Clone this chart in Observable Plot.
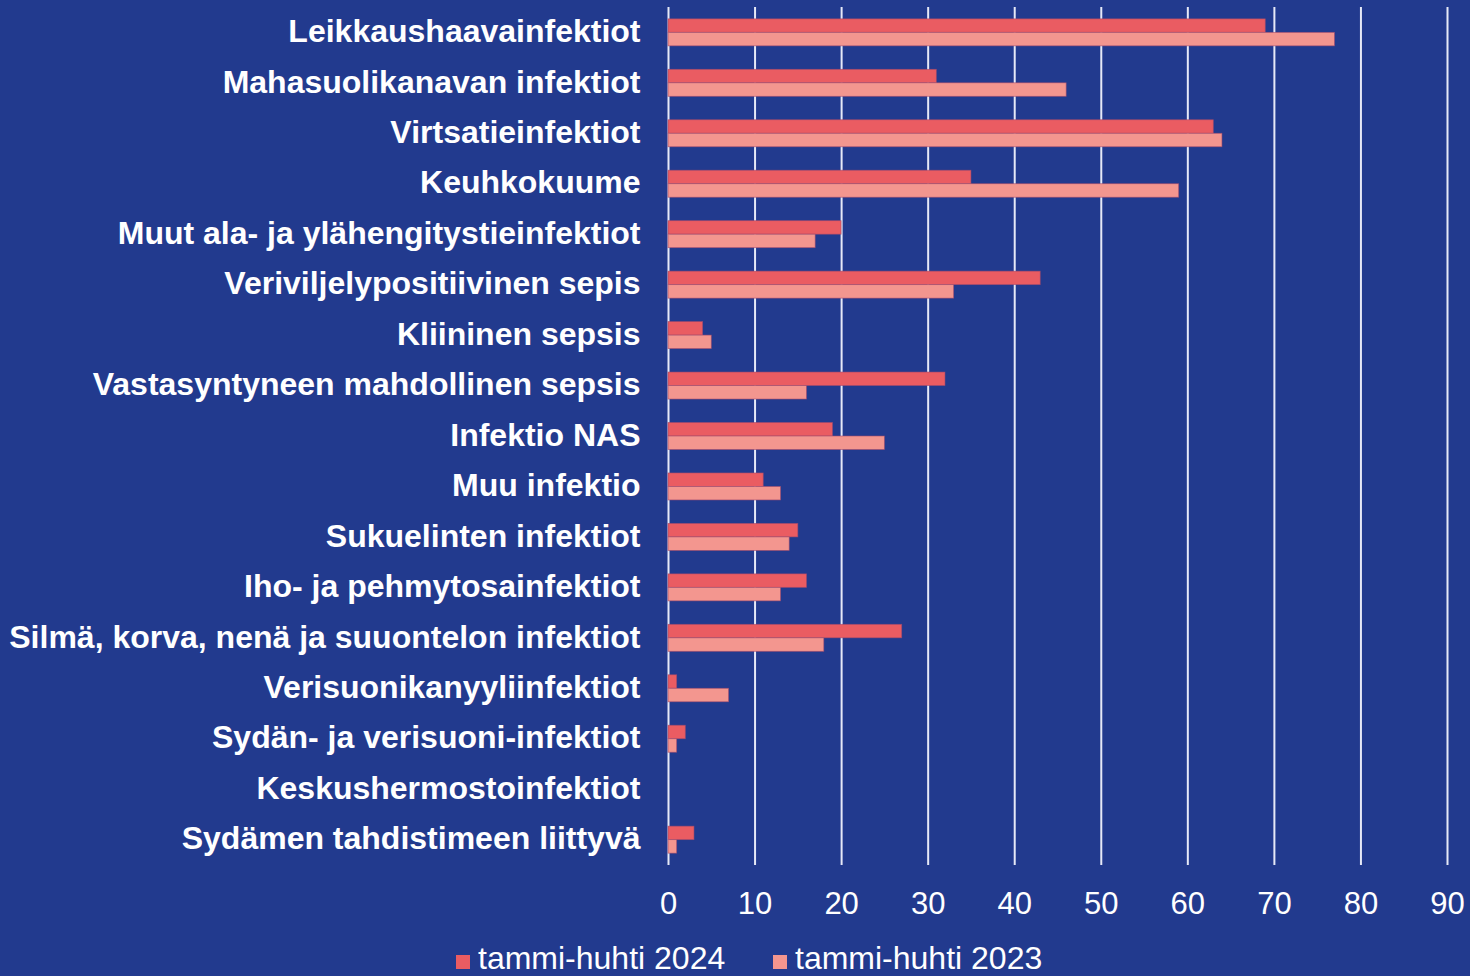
<!DOCTYPE html>
<html>
<head>
<meta charset="utf-8">
<script src="https://cdn.jsdelivr.net/npm/d3@7"></script>
<script src="https://cdn.jsdelivr.net/npm/@observablehq/plot@0.6"></script>
<style>
  html, body { margin: 0; padding: 0; background: #223A8E; overflow: hidden; }
  #chart svg { display: block; }
  #legend {
    position: absolute; left: 0; top: 940px; width: 1470px; height: 36px;
    font-family: "Liberation Sans", Arial, sans-serif; font-size: 32px; color: #fff;
    line-height: 36px; white-space: nowrap;
  }
  .item { position: absolute; top: 0; }
  .sw { display: inline-block; width: 14px; height: 14px; margin-right: 8px; vertical-align: 0px; }
</style>
</head>
<body>
<div id="chart"></div>
<div id="legend"></div>
<script>
const categories = [
  "Leikkaushaavainfektiot",
  "Mahasuolikanavan infektiot",
  "Virtsatieinfektiot",
  "Keuhkokuume",
  "Muut ala- ja ylähengitystieinfektiot",
  "Veriviljelypositiivinen sepis",
  "Kliininen sepsis",
  "Vastasyntyneen mahdollinen sepsis",
  "Infektio NAS",
  "Muu infektio",
  "Sukuelinten infektiot",
  "Iho- ja pehmytosainfektiot",
  "Silmä, korva, nenä ja suuontelon infektiot",
  "Verisuonikanyyliinfektiot",
  "Sydän- ja verisuoni-infektiot",
  "Keskushermostoinfektiot",
  "Sydämen tahdistimeen liittyvä"
];
const values2024 = [69, 31, 63, 35, 20, 43, 4, 32, 19, 11, 15, 16, 27, 1, 2, 0, 3];
const values2023 = [77, 46, 64, 59, 17, 33, 5, 16, 25, 13, 14, 13, 18, 7, 1, 0, 1];
const seriesNames = ["tammi-huhti 2024", "tammi-huhti 2023"];
const seriesColors = ["#EA5C62", "#F3968F"];
const xTicks = [0, 10, 20, 30, 40, 50, 60, 70, 80, 90];

const rows2024 = categories.map((c, i) => ({category: c, value: values2024[i]}));
const rows2023 = categories.map((c, i) => ({category: c, value: values2023[i]}));

const W = 1470, H = 940;
const marginTop = 7, marginBottom = H - 865;
const pIn = 0.465, pOut = 0.235;
const step = (H - marginTop - marginBottom) / (categories.length - pIn + 2 * pOut);
const half = step * (1 - pIn) / 2;

const chart = Plot.plot({
  width: W,
  height: H,
  marginLeft: 668,
  marginRight: 23,
  marginTop,
  marginBottom,
  style: {background: "#223A8E", color: "#fff", fontFamily: "'Liberation Sans', Arial, sans-serif"},
  x: {domain: [0, 90], ticks: xTicks},
  y: {domain: categories, paddingInner: pIn, paddingOuter: pOut, align: 0.5, round: false},
  marks: [
    Plot.gridX(xTicks, {stroke: "#E6E9F7", strokeOpacity: 1, strokeWidth: 2}),
    Plot.barX(rows2024, {x: "value", y: "category", fill: seriesColors[0], insetBottom: half, stroke: "#A34A6C", strokeWidth: 0.8, strokeOpacity: 0.7}),
    Plot.barX(rows2023, {x: "value", y: "category", fill: seriesColors[1], insetTop: half, stroke: "#A34A6C", strokeWidth: 0.8, strokeOpacity: 0.7}),
    Plot.axisY({tickSize: 0, tickPadding: 28, fontSize: 32, fontWeight: "bold", fill: "#fff", label: null, dy: -1}),
    Plot.axisX(xTicks, {tickSize: 0, tickPadding: 26, fontSize: 31, fill: "#fff", label: null})
  ]
});
document.getElementById("chart").appendChild(chart);

const legend = document.getElementById("legend");
const lefts = [456, 773];
seriesNames.forEach((name, i) => {
  const item = document.createElement("span");
  item.className = "item";
  item.style.left = lefts[i] + "px";
  item.innerHTML = `<span class="sw" style="background:${seriesColors[i]}"></span>${name}`;
  legend.appendChild(item);
});
</script>
</body>
</html>
